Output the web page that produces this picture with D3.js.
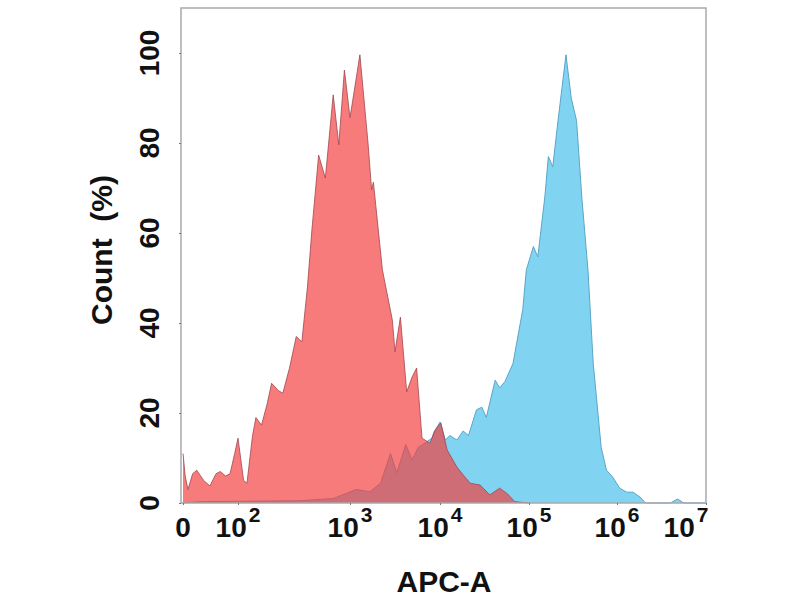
<!DOCTYPE html>
<html><head><meta charset="utf-8">
<script src="https://cdn.jsdelivr.net/npm/d3@7"></script>
<style>body{margin:0;background:#fff}svg{display:block}text{font-family:"Liberation Sans",Arial,sans-serif;font-weight:bold;fill:#111}</style>
</head><body><svg id="c" width="800" height="600"></svg>
<script>
// x values are display decades (0 = the "0" tick, 2..7 = 10^2..10^7); y = Count (%)
const redSeries = [[0,11],[0.08,6],[0.18,3],[0.35,6.5],[0.5,7.3],[0.75,5],[0.98,3.8],[1.2,6.5],[1.35,7],[1.55,6],[1.71,6.5],[1.88,11],[2.0,14.4],[2.05,5],[2.08,4.4],[2.13,15],[2.16,19],[2.21,17.3],[2.26,22],[2.30,26.6],[2.36,25],[2.40,24.4],[2.46,30],[2.52,37],[2.57,35.8],[2.62,48],[2.66,60.7],[2.72,77.3],[2.78,72.2],[2.85,90.7],[2.90,79.6],[2.95,96.2],[3.0,85.6],[3.11,99.6],[3.2,80],[3.24,69.6],[3.26,71.3],[3.36,51.8],[3.47,40.7],[3.50,33.6],[3.56,41.3],[3.63,24.7],[3.69,28],[3.74,30],[3.80,14.4],[3.89,13.3],[3.94,16],[4.01,17.8],[4.08,11.8],[4.19,8],[4.27,6],[4.34,4.4],[4.45,4],[4.56,1.8],[4.67,3.3],[4.76,2],[4.84,0.3],[5.0,0]];
const blueSeries = [[0,0],[0.62,0.3],[2.55,0.5],[2.85,1],[3.07,3],[3.22,2.5],[3.34,4.4],[3.45,11],[3.52,6.7],[3.62,13],[3.69,9.6],[3.76,12.4],[3.81,13],[3.91,14.4],[3.94,16],[4.0,18],[4.06,14],[4.11,15],[4.19,14],[4.26,16],[4.32,15],[4.41,20.7],[4.47,21.3],[4.52,19],[4.62,27.3],[4.67,25.6],[4.73,27],[4.82,31],[4.93,43],[4.97,51.8],[5.05,57],[5.10,54.7],[5.18,68],[5.22,77],[5.27,74.7],[5.33,85],[5.42,99.6],[5.48,90],[5.54,85],[5.60,68],[5.67,51.8],[5.73,31],[5.82,12.4],[5.88,7.3],[5.95,5.8],[6.03,3.3],[6.11,2.4],[6.18,2.4],[6.26,1.3],[6.32,0],[6.60,0],[6.68,0.9],[6.75,0],[7,0]];
const xTickValues = [0,2,3,4,5,6,7];
const xTickExponents = [null,"2","3","4","5","6","7"];
const yTickValues = [0,20,40,60,80,100];
const xTitle = "APC-A";
const yTitle = "Count\u00a0\u00a0(%)";

const svg = d3.select("#c");
const L=181, R=706, T=8, B=503;
const x = d3.scaleLinear().domain([0,2,3,4,5,6,7]).range([183,238,350,440,529,617,706]);
const y = d3.scaleLinear().domain([0,110]).range([B,T]);

const area = d3.area().x(d=>x(d[0])).y0(y(0)).y1(d=>y(d[1])).curve(d3.curveLinear);
const line = d3.line().x(d=>x(d[0])).y(d=>y(d[1])).curve(d3.curveLinear);

svg.append("path").datum(blueSeries).attr("d",area).attr("fill","#80d4f2");
svg.append("path").datum(blueSeries).attr("d",line).attr("fill","none").attr("stroke","#5aa6c6").attr("stroke-width",1);
svg.append("path").datum(redSeries).attr("d",area).attr("fill","#f43c3c").attr("fill-opacity",0.68);
svg.append("path").datum(redSeries).attr("d",line).attr("fill","none").attr("stroke","#a04650").attr("stroke-opacity",0.8).attr("stroke-width",1);

// frame
svg.append("rect").attr("x",L).attr("y",T).attr("width",R-L).attr("height",B-T)
  .attr("fill","none").attr("stroke","#a9a9a9").attr("stroke-width",1.5);

// axes
const xAxis = svg.append("g").attr("transform",`translate(0,${B})`)
  .call(d3.axisBottom(x).tickValues(xTickValues).tickSize(2).tickFormat(""));
xAxis.select(".domain").remove();
xAxis.selectAll("line").attr("stroke","#777");
const yAxis = svg.append("g").attr("transform",`translate(${L},0)`)
  .call(d3.axisLeft(y).tickValues(yTickValues).tickSize(2).tickFormat(""));
yAxis.select(".domain").remove();
yAxis.selectAll("line").attr("stroke","#777");

// x tick labels
xTickValues.forEach((v,i)=>{
  const e = xTickExponents[i];
  const t = svg.append("text").attr("y",537).attr("font-size",28);
  if(e===null){ t.attr("x",x(v)).attr("text-anchor","middle").text("0"); }
  else {
    const anchorX = (i===xTickValues.length-1) ? x(v)-20 : x(v);
    t.attr("x",anchorX).attr("text-anchor","middle");
    t.append("tspan").text("10");
    t.append("tspan").attr("font-size",21).attr("dy",-15).attr("dx",2).text(e);
  }
});
// y tick labels
yTickValues.forEach(v=>{
  svg.append("text").attr("transform",`translate(159,${y(v)}) rotate(-90)`)
    .attr("text-anchor","middle").attr("font-size",28).text(v);
});
svg.append("text").attr("x",444).attr("y",592).attr("text-anchor","middle").attr("font-size",30).text(xTitle);
svg.append("text").attr("transform",`translate(112,250) rotate(-90)`).attr("text-anchor","middle").attr("font-size",30).text(yTitle);
</script></body></html>
